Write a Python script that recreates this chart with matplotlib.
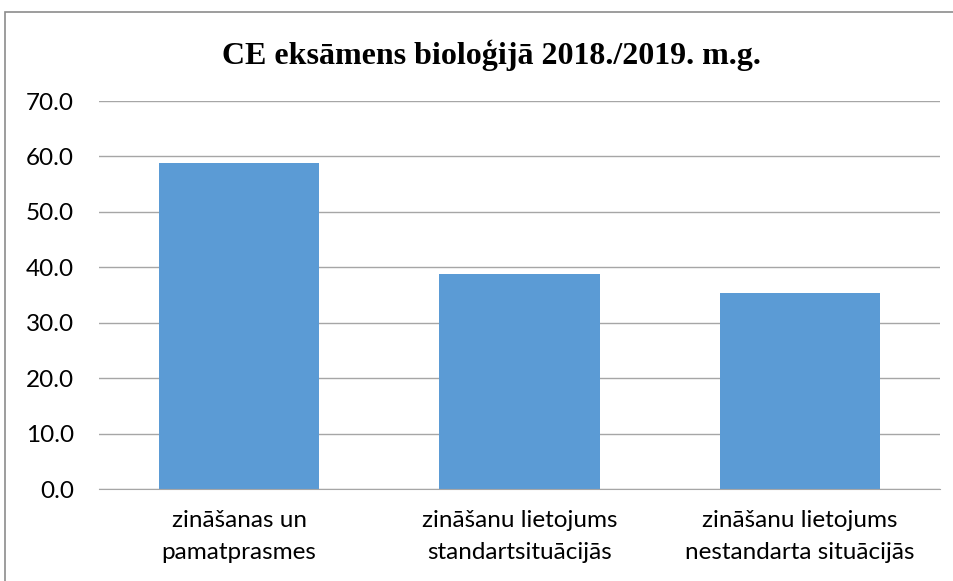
import matplotlib
matplotlib.use("Agg")
import matplotlib.pyplot as plt
from matplotlib.patches import Rectangle

categories = ["zināšanas un\npamatprasmes",
              "zināšanu lietojums\nstandartsituācijās",
              "zināšanu lietojums\nnestandarta situācijās"]
values = [58.9, 38.7, 35.4]
yticks = [0, 10, 20, 30, 40, 50, 60, 70]
title = "CE eksāmens bioloģijā 2018./2019. m.g."

label_font = "Lato"

fig = plt.figure(figsize=(9.54, 5.81), dpi=100)
fig.patches.append(Rectangle((5.5 / 954, -0.1), 1.2, 1 - 12.5 / 581 + 0.1,
                             transform=fig.transFigure, fill=False,
                             edgecolor="#8c8c8c", linewidth=1.2))

ax = fig.add_axes([99 / 954, 1 - 489 / 581, 841 / 954, 388 / 581])
x = range(len(categories))
ax.bar(x, values, width=0.572, color="#5B9BD5", zorder=3)
ax.set_xlim(-0.5, len(categories) - 0.5)
ax.set_ylim(0, 70)
ax.set_yticks(yticks)
ax.set_yticklabels([f"{v:.1f}" for v in yticks], fontsize=17.5, family=label_font)
ax.set_xticks(list(x))
ax.set_xticklabels(categories, fontsize=17.5, family=label_font, linespacing=1.65)
ax.tick_params(axis="both", length=0, colors="black")
ax.tick_params(axis="x", pad=15)
ax.tick_params(axis="y", pad=18)
ax.grid(axis="y", color="#a6a6a6", linewidth=1, zorder=0)
for side in ("top", "right", "left"):
    ax.spines[side].set_visible(False)
ax.spines["bottom"].set_color("#a6a6a6")
ax.spines["bottom"].set_zorder(4)

fig.text(491 / 954, 1 - 55 / 581, title, ha="center", va="center",
         fontsize=23, fontweight="bold", family="Liberation Serif")

fig.savefig("out.png", dpi=100)
